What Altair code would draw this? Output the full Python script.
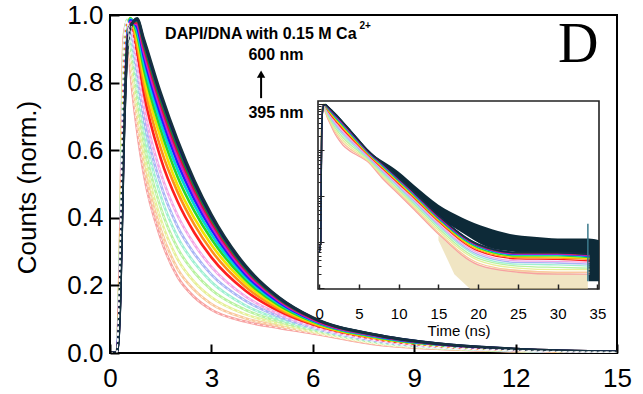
import altair as alt
import pandas as pd

# ---------------- data ----------------
T = [0, 0.2, 0.3, 0.4, 0.5, 0.6, 0.8, 1.0, 1.5, 2, 2.5, 3, 4, 5, 6, 8, 10, 12, 15, 20, 25, 30, 34]

c01 = [0.0006, 0.001, 0.35, 0.93, 0.98, 0.84, 0.66, 0.53, 0.34, 0.225, 0.165, 0.128, 0.093, 0.074, 0.058, 0.024, 0.011, 0.005, 0.0015, 0.00032, 0.00022, 0.0002, 0.0002]
c02 = [0.0006, 0.001, 0.338, 0.910, 0.983, 0.865, 0.691, 0.559, 0.366, 0.249, 0.186, 0.145, 0.103, 0.0795, 0.0608, 0.0257, 0.0118, 0.0054, 0.0016, 0.00035, 0.00024, 0.00022, 0.00022]
c03 = [0.0006, 0.001, 0.324, 0.887, 0.985, 0.892, 0.726, 0.591, 0.396, 0.278, 0.210, 0.165, 0.115, 0.086, 0.064, 0.0276, 0.0128, 0.0059, 0.0018, 0.0004, 0.00027, 0.00025, 0.00025]
c04 = [0.0006, 0.001, 0.308, 0.861, 0.986, 0.918, 0.763, 0.627, 0.430, 0.310, 0.238, 0.187, 0.128, 0.093, 0.068, 0.0299, 0.0139, 0.0065, 0.0020, 0.00044, 0.0003, 0.00028, 0.00027]
c05 = [0.0006, 0.001, 0.292, 0.834, 0.984, 0.941, 0.797, 0.663, 0.465, 0.343, 0.266, 0.210, 0.141, 0.100, 0.072, 0.0321, 0.0151, 0.0070, 0.0022, 0.00049, 0.00033, 0.00032, 0.0003]
c06 = [0.0006, 0.001, 0.276, 0.808, 0.980, 0.959, 0.829, 0.697, 0.499, 0.374, 0.293, 0.232, 0.155, 0.108, 0.075, 0.0344, 0.0162, 0.0076, 0.0024, 0.00053, 0.00036, 0.00035, 0.00033]
c07 = [0.0006, 0.001, 0.260, 0.782, 0.975, 0.973, 0.858, 0.730, 0.533, 0.407, 0.321, 0.255, 0.168, 0.115, 0.079, 0.0366, 0.0173, 0.0082, 0.0025, 0.00058, 0.00039, 0.00038, 0.00036]
c08 = [0.0006, 0.001, 0.240, 0.749, 0.965, 0.985, 0.891, 0.770, 0.576, 0.448, 0.355, 0.283, 0.185, 0.124, 0.084, 0.0394, 0.0187, 0.0089, 0.0028, 0.00064, 0.00043, 0.00042, 0.00039]
c09 = [0.0006, 0.001, 0.226, 0.725, 0.956, 0.990, 0.912, 0.797, 0.606, 0.476, 0.379, 0.303, 0.197, 0.130, 0.087, 0.0414, 0.0197, 0.0093, 0.0029, 0.00068, 0.00046, 0.00045, 0.00042]
c10 = [0.0006, 0.001, 0.214, 0.706, 0.947, 0.991, 0.928, 0.819, 0.636, 0.496, 0.398, 0.320, 0.207, 0.136, 0.090, 0.0430, 0.0205, 0.0098, 0.0031, 0.00071, 0.00048, 0.00047, 0.00044]
c11 = [0.0006, 0.001, 0.202, 0.686, 0.937, 0.990, 0.943, 0.841, 0.661, 0.521, 0.419, 0.337, 0.217, 0.141, 0.093, 0.0447, 0.0214, 0.0102, 0.0032, 0.00075, 0.0005, 0.0005, 0.00046]
c12 = [0.0006, 0.001, 0.192, 0.669, 0.928, 0.988, 0.954, 0.859, 0.682, 0.542, 0.437, 0.351, 0.225, 0.146, 0.095, 0.0461, 0.0221, 0.0105, 0.0033, 0.00078, 0.00052, 0.00052, 0.00048]
c13 = [0.0006, 0.001, 0.182, 0.653, 0.918, 0.984, 0.964, 0.877, 0.703, 0.563, 0.454, 0.365, 0.233, 0.150, 0.0975, 0.0475, 0.0228, 0.0109, 0.0034, 0.00081, 0.00054, 0.00054, 0.00049]
c14 = [0.0006, 0.001, 0.174, 0.640, 0.909, 0.979, 0.972, 0.890, 0.720, 0.580, 0.468, 0.376, 0.240, 0.154, 0.099, 0.0486, 0.0233, 0.0112, 0.0035, 0.00083, 0.00055, 0.00055, 0.00051]
c15 = [0.0006, 0.001, 0.166, 0.626, 0.900, 0.974, 0.978, 0.904, 0.736, 0.596, 0.482, 0.387, 0.247, 0.158, 0.101, 0.0498, 0.0239, 0.0114, 0.0036, 0.00085, 0.00057, 0.00057, 0.00052]
c16 = [0.0006, 0.001, 0.160, 0.617, 0.893, 0.969, 0.983, 0.914, 0.749, 0.609, 0.493, 0.396, 0.252, 0.160, 0.103, 0.0506, 0.0243, 0.0117, 0.0037, 0.00087, 0.00058, 0.00058, 0.00053]
c17 = [0.0006, 0.001, 0.154, 0.607, 0.885, 0.964, 0.987, 0.924, 0.762, 0.622, 0.503, 0.404, 0.257, 0.163, 0.104, 0.0514, 0.0247, 0.0119, 0.0038, 0.00089, 0.00059, 0.00059, 0.00054]
c18 = [0.0006, 0.001, 0.150, 0.600, 0.880, 0.960, 0.990, 0.930, 0.770, 0.630, 0.510, 0.410, 0.260, 0.165, 0.105, 0.052, 0.025, 0.012, 0.0038, 0.0009, 0.0006, 0.0006, 0.00055]

curves = [c01, c02, c03, c04, c05, c06, c07, c08, c09, c10, c11, c12, c13, c14, c15, c16, c17, c18]
series_names = ["s%02d" % (i + 1) for i in range(len(curves))]
series_colors = ["#f7a1a1", "#f9c89c", "#e6ef98", "#b8f2a0", "#9ff0d2", "#a9b5f5",
                 "#f3a6e6", "#ff1f1f", "#ff8f1a", "#f2e200", "#2bd62b", "#00d5d5",
                 "#1f1fff", "#cc1fcc", "#e0103c", "#167a3a", "#10106e", "#16313f"]
pale_series = series_names[:7]
main_widths = [2.6] * 7 + [2.2] + [1.6] * 8 + [2.0, 3.2]
inset_widths = [1.3] * 16 + [1.6, 2.6]

# noisy dark floor of the slowest trace in the inset (upper/lower envelope)
band_t = [7, 8, 10, 12, 15, 18, 21, 24, 27, 30, 33.8, 33.9, 35.2]
band_hi = [0.075, 0.058, 0.034, 0.017, 0.0065, 0.0034, 0.0021, 0.0015, 0.0013, 0.0012, 0.0012, 0.0012, 0.0011]
band_lo = [0.072, 0.051, 0.024, 0.0115, 0.0036, 0.0016, 0.0008, 0.00063, 0.00058, 0.00058, 0.00053, 0.00014, 0.00014]
# pale noise spikes below the fastest traces
spk_t = [15, 17, 19, 21, 33.8]
spk_hi = [0.0014, 0.0007, 0.00038, 0.00028, 0.0002]
spk_lo = [0.0011, 0.0002, 0.0000951, 0.0000951, 0.0000951]
# end-of-record spike
end_t = [33.8]
end_hi = [0.0025]
end_lo = [0.00014]

main_x_ticks = [0, 3, 6, 9, 12, 15]
main_y_ticks = [0.0, 0.2, 0.4, 0.6, 0.8, 1.0]
inset_x_ticks = [0, 5, 10, 15, 20, 25, 30, 35]
inset_y_major = [0.0001, 0.001, 0.01, 0.1, 1]
inset_y_minor = [0.0002, 0.0003, 0.0004, 0.0005, 0.0006, 0.0007, 0.0008, 0.0009,
                 0.002, 0.003, 0.004, 0.005, 0.006, 0.007, 0.008, 0.009,
                 0.02, 0.03, 0.04, 0.05, 0.06, 0.07, 0.08, 0.09,
                 0.2, 0.3, 0.4, 0.5, 0.6, 0.7, 0.8, 0.9]

main_x_domain = [0, 15]
main_y_domain = [0, 1.0]
inset_x_domain = [-0.15, 35.2]
inset_y_domain = [0.000095, 1.18]

title_text = ["DAPI/DNA with 0.15 M Ca"]
title_t = [1.63]
title_v = [0.93]
sup_text = ["2+"]
sup_t = [7.38]
sup_v = [0.96]
wl_text = ["600 nm", "395 nm"]
wl_t = [4.91, 4.91]
wl_v = [0.867, 0.695]
arrow_t = [4.47]
arrow_v0 = [0.754]
arrow_v1 = [0.82]
arrow_head_v = [0.825]
panel_text = ["D"]
panel_t = [13.85]
panel_v = [0.861]

# ---------------- tables ----------------
rows = []
for name, vals in zip(series_names, curves):
    for t, v in zip(T, vals):
        rows.append({"t": t, "v": v, "s": name})
df = pd.DataFrame(rows)

FONT = "Liberation Sans"

main_x = alt.Scale(domain=main_x_domain, zero=False, nice=False)
main_y = alt.Scale(domain=main_y_domain, zero=False, nice=False)
in_x = alt.Scale(domain=inset_x_domain, range=[208, 489], zero=False, nice=False)
in_y = alt.Scale(type="log", domain=inset_y_domain, range=[274, 86], nice=False)

color = alt.Color("s:N", scale=alt.Scale(domain=series_names, range=series_colors), legend=None)

# ---------------- main panel ----------------
main_lines = alt.Chart(df).mark_line(clip=True, interpolate="monotone").encode(
    x=alt.X("t:Q", scale=main_x,
            axis=alt.Axis(orient="bottom", values=main_x_ticks, ticks=False, tickSize=0, domain=False,
                          grid=False, labelFontSize=26, labelPadding=12, labelFlush=False,
                          labelOverlap=False, title=None)),
    y=alt.Y("v:Q", scale=main_y,
            axis=alt.Axis(orient="left", values=main_y_ticks, format=".1f", ticks=False, tickSize=0,
                          domain=False, grid=False, labelFontSize=26, labelPadding=7,
                          labelFlush=False, labelOverlap=False,
                          title="Counts (norm.)", titleFontSize=26, titleFontWeight="normal",
                          titleX=-75, titleY=172, titleBaseline="alphabetic")),
    color=color,
    strokeWidth=alt.StrokeWidth("s:N", scale=alt.Scale(domain=series_names, range=main_widths), legend=None),
)

# white dashed fit lines running through the pale, noisy traces
main_fits = alt.Chart(df).transform_filter(
    alt.FieldOneOfPredicate(field="s", oneOf=pale_series)
).mark_line(clip=True, interpolate="monotone", color="white", strokeWidth=0.8,
            strokeDash=[3, 3], opacity=0.9).encode(
    x=alt.X("t:Q", scale=main_x, axis=None),
    y=alt.Y("v:Q", scale=main_y, axis=None),
    detail="s:N",
)

df_title = pd.DataFrame({"t": title_t, "v": title_v, "label": title_text})
title_layer = alt.Chart(df_title).mark_text(
    align="left", baseline="alphabetic", font=FONT, fontSize=16, fontWeight="bold", color="black"
).encode(
    x=alt.X("t:Q", scale=main_x,
            axis=alt.Axis(orient="top", offset=-338, values=main_x_ticks, tickSize=9, tickWidth=2,
                          tickColor="black", labels=False, domain=False, grid=False, title=None, zindex=1)),
    y=alt.Y("v:Q", scale=main_y,
            axis=alt.Axis(orient="right", offset=-507, values=main_y_ticks, tickSize=9, tickWidth=2,
                          tickColor="black", labels=False, domain=False, grid=False, title=None, zindex=1)),
    text="label:N",
)

df_sup = pd.DataFrame({"t": sup_t, "v": sup_v, "label": sup_text})
sup_layer = alt.Chart(df_sup).mark_text(
    align="left", baseline="alphabetic", font=FONT, fontSize=10, fontWeight="bold", color="black"
).encode(
    x=alt.X("t:Q", scale=main_x, axis=None),
    y=alt.Y("v:Q", scale=main_y, axis=None),
    text="label:N",
)

df_wl = pd.DataFrame({"t": wl_t, "v": wl_v, "label": wl_text})
wl_layer = alt.Chart(df_wl).mark_text(
    align="center", baseline="alphabetic", font=FONT, fontSize=16, fontWeight="bold", color="black"
).encode(
    x=alt.X("t:Q", scale=main_x, axis=None),
    y=alt.Y("v:Q", scale=main_y, axis=None),
    text="label:N",
)

df_arrow = pd.DataFrame({"t": arrow_t, "v0": arrow_v0, "v1": arrow_v1, "vh": arrow_head_v})
arrow_shaft = alt.Chart(df_arrow).mark_rule(color="black", strokeWidth=2).encode(
    x=alt.X("t:Q", scale=main_x, axis=None),
    y=alt.Y("v0:Q", scale=main_y, axis=None),
    y2="v1:Q",
)
arrow_head = alt.Chart(df_arrow).mark_point(
    shape="triangle-up", filled=True, color="black", size=70, opacity=1
).encode(
    x=alt.X("t:Q", scale=main_x, axis=None),
    y=alt.Y("vh:Q", scale=main_y, axis=None),
)

df_panel = pd.DataFrame({"t": panel_t, "v": panel_v, "label": panel_text})
panel_layer = alt.Chart(df_panel).mark_text(
    align="center", baseline="alphabetic", font="Liberation Serif", fontSize=56, color="black"
).encode(
    x=alt.X("t:Q", scale=main_x, axis=None),
    y=alt.Y("v:Q", scale=main_y, axis=None),
    text="label:N",
)

# ---------------- inset ----------------
df_frame = pd.DataFrame({"x0": [inset_x_domain[0]], "x1": [inset_x_domain[1]],
                         "y0": [inset_y_domain[0]], "y1": [inset_y_domain[1]]})
major_test = "indexof([0.0001, 0.001, 0.01, 0.1, 1], datum.value) >= 0"
inset_frame = alt.Chart(df_frame).mark_rect(fill="white", stroke="#222222", strokeWidth=1.6).encode(
    x=alt.X("x0:Q", scale=in_x,
            axis=alt.Axis(orient="top", offset=-274, values=inset_x_ticks, tickSize=5, tickWidth=1.5,
                          tickColor="#222222", labels=False, domain=False, grid=False, title=None, zindex=1)),
    x2="x1:Q",
    y=alt.Y("y0:Q", scale=in_y,
            axis=alt.Axis(orient="right", offset=-299, values=inset_y_major + inset_y_minor,
                          tickSize={"condition": {"test": major_test, "value": 6}, "value": 3},
                          tickWidth=1, tickColor="#222222", labels=False, domain=False, grid=False,
                          title=None, zindex=1)),
    y2="y1:Q",
)

df_spk = pd.DataFrame({"t": spk_t, "hi": spk_hi, "lo": spk_lo})
inset_spikes = alt.Chart(df_spk).mark_area(color="#e3cf92", opacity=0.55).encode(
    x=alt.X("t:Q", scale=in_x, axis=None),
    y=alt.Y("hi:Q", scale=in_y, axis=None),
    y2="lo:Q",
)

df_band = pd.DataFrame({"t": band_t, "hi": band_hi, "lo": band_lo})
inset_band = alt.Chart(df_band).mark_area(color="#0d2a38", interpolate="monotone").encode(
    x=alt.X("t:Q", scale=in_x, axis=None),
    y=alt.Y("hi:Q", scale=in_y, axis=None),
    y2="lo:Q",
)

inset_lines = alt.Chart(df).mark_line(interpolate="monotone", clip=True).encode(
    x=alt.X("t:Q", scale=in_x,
            axis=alt.Axis(orient="bottom", offset=-64, values=inset_x_ticks, ticks=False, tickSize=0,
                          domain=False, grid=False, labelFontSize=15, labelPadding=17,
                          labelFlush=False, labelOverlap=False,
                          title="Time (ns)", titleFontSize=15, titleFontWeight="normal",
                          titleX=348.5, titleY=46, titleBaseline="alphabetic", zindex=1)),
    y=alt.Y("v:Q", scale=in_y, axis=None),
    color=color,
    strokeWidth=alt.StrokeWidth("s:N", scale=alt.Scale(domain=series_names, range=inset_widths), legend=None),
)

df_end = pd.DataFrame({"t": end_t, "hi": end_hi, "lo": end_lo})
inset_end = alt.Chart(df_end).mark_rule(color="#3d7a8c", strokeWidth=1.5).encode(
    x=alt.X("t:Q", scale=in_x, axis=None),
    y=alt.Y("hi:Q", scale=in_y, axis=None),
    y2="lo:Q",
)

chart = alt.layer(
    main_lines, main_fits, title_layer, sup_layer, wl_layer, arrow_shaft, arrow_head, panel_layer,
    inset_frame, inset_spikes, inset_band, inset_lines, inset_end,
).resolve_scale(
    x="independent", y="independent", strokeWidth="independent"
).properties(
    width=507, height=338,
    autosize=alt.AutoSizeParams(type="none"),
    padding={"left": 110, "top": 15, "right": 26, "bottom": 41},
    background="white",
).configure_view(
    stroke="black", strokeWidth=2
).configure_axis(
    labelFont=FONT, titleFont=FONT, labelColor="black", titleColor="black", grid=False
)

chart.save("out.html", embed_options={"renderer": "svg", "actions": False})
